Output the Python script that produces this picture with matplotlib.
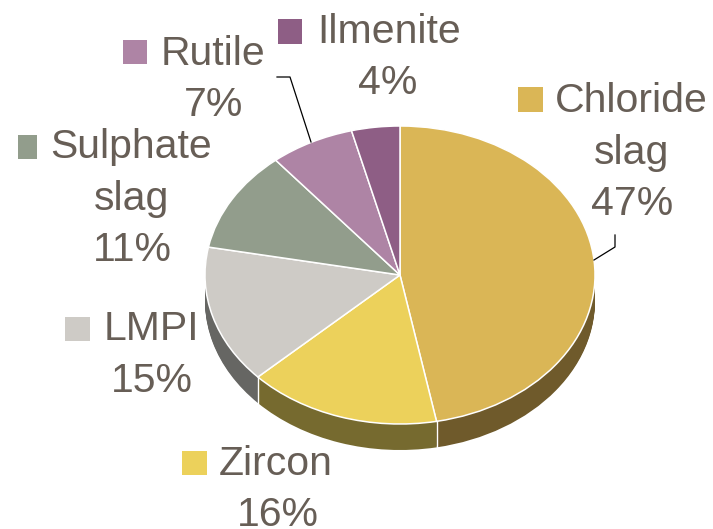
import numpy as np
import matplotlib
matplotlib.use('Agg')
import matplotlib.pyplot as plt
from matplotlib.patches import Rectangle

# data, clockwise from 12 o'clock
names = ['Chloride\nslag', 'Zircon', 'LMPI', 'Sulphate\nslag', 'Rutile', 'Ilmenite']
shares = [47, 16, 15, 11, 7, 4]
colors = ['#DAB656', '#ECD15B', '#CECBC6', '#929D8C', '#AE84A5', '#8E5E85']
side_colors = ['#6F5A2B', '#766A2F', '#666663', '#55604F', '#6A4F63', '#553850']

# pie geometry in pixels
W, H = 713, 529
cx, cy, rx, ry = 400, 275, 195, 149
depth = 26
text_color = '#675E56'
font_px = 41
font_pt = font_px * 72 / 100

# per slice: swatch box (x0, y0, x1, y1), first line x, first baseline, centre x of the rest
swatches = [(518, 87, 543, 112), (182, 451, 207, 475), (65, 317, 90, 341),
            (18, 135, 37, 159), (123, 40, 147, 64), (278, 19, 302, 44)]
name_x = [555, 219, 104, 50, 161, 317]
name_y = [112, 475, 340, 158, 65, 43]
rest_x = [632, 278, 152, 132, 214, 388]
line_gap = 51.5

plt.rcParams['font.family'] = ['Liberation Sans', 'DejaVu Sans']
fig = plt.figure(figsize=(W / 100, H / 100), dpi=100)

# unit radius of the pie maps to rx, ry pixels
ax = fig.add_axes([0, 0, 1, 1])
for d in range(depth, 0, -1):
    ax.pie(shares, colors=side_colors, startangle=90, counterclock=False,
           center=(0, -d / ry), radius=1, wedgeprops={'linewidth': 0})
ax.pie(shares, colors=colors, startangle=90, counterclock=False, radius=1,
       wedgeprops={'edgecolor': 'white', 'linewidth': 1.1})

# white seams on the rim at the front slice boundaries
for total in np.cumsum(shares)[:2]:
    a = np.deg2rad(90 - 3.6 * total)
    ax.plot([np.cos(a), np.cos(a)], [np.sin(a), np.sin(a) - depth / ry], color='white', lw=1.0)

ax.set_aspect('auto')
ax.set_xlim(-cx / rx, (W - cx) / rx)
ax.set_ylim(-(H - cy) / ry, cy / ry)
ax.set_axis_off()

# overlay in pixel coordinates for labels
ov = fig.add_axes([0, 0, 1, 1])
ov.set_xlim(0, W)
ov.set_ylim(H, 0)
ov.set_axis_off()
ov.patch.set_alpha(0)

for i, name in enumerate(names):
    x0, y0, x1, y1 = swatches[i]
    ov.add_patch(Rectangle((x0, y0), x1 - x0, y1 - y0, facecolor=colors[i], edgecolor='none'))
    lines = name.split('\n')
    ov.text(name_x[i], name_y[i], lines[0], fontsize=font_pt, color=text_color, ha='left', va='baseline')
    y = name_y[i] + line_gap
    for extra in lines[1:]:
        ov.text(rest_x[i], y, extra, fontsize=font_pt, color=text_color, ha='center', va='baseline')
        y += line_gap
    ov.text(rest_x[i], y, f'{shares[i]}%', fontsize=font_pt, color=text_color, ha='center', va='baseline')

# leader lines
ov.plot([277, 290, 311], [77, 77, 142], color='black', lw=0.9)
ov.plot([594, 615, 615], [260, 247, 235], color='black', lw=0.9)

fig.savefig('out.png', dpi=100)
